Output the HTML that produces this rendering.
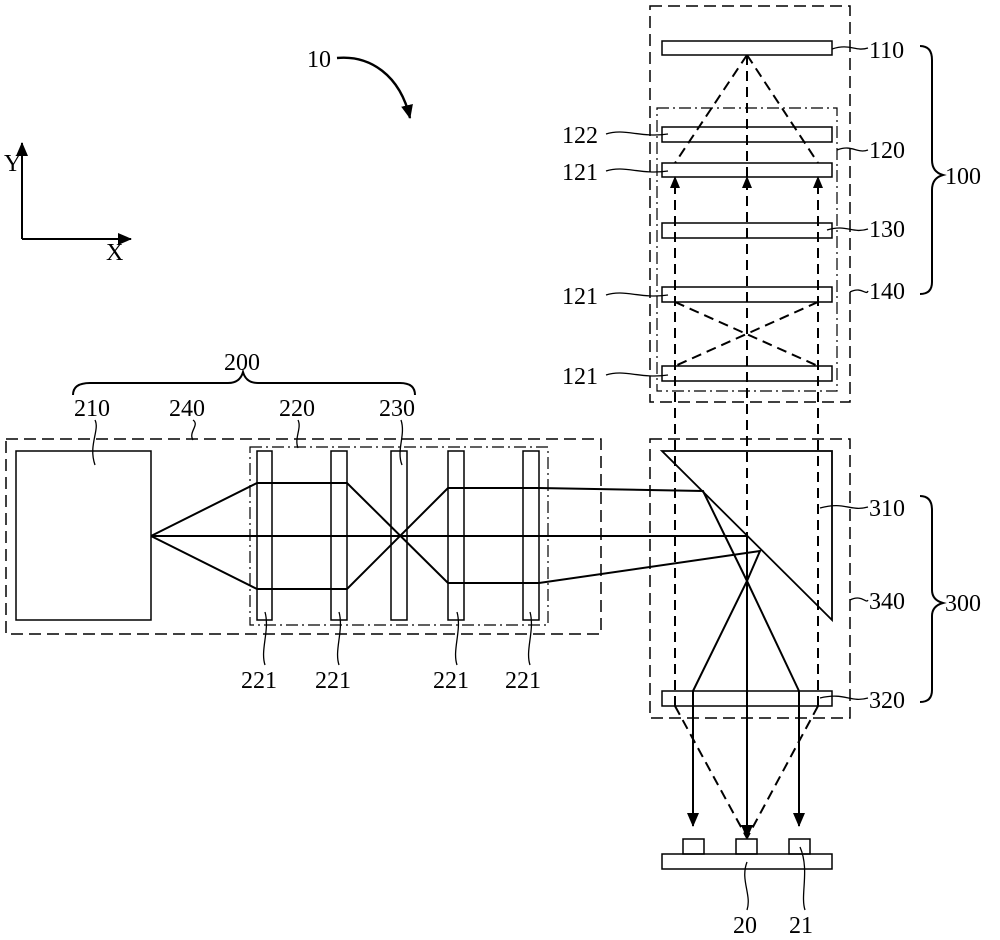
<!DOCTYPE html>
<html><head><meta charset="utf-8"><style>
html,body{margin:0;padding:0;background:#fff;}
svg{display:block;}
text{font-family:"Liberation Serif",serif;font-size:24px;fill:#000;}
</style></head><body>
<svg width="1000" height="940" viewBox="0 0 1000 940" xmlns="http://www.w3.org/2000/svg">
<defs>
<marker id="ahb" markerWidth="14" markerHeight="12" refX="13" refY="6" orient="auto" markerUnits="userSpaceOnUse"><path d="M0,0 L14,6 L0,12 Z" fill="#000"/></marker>
</defs>
<g fill="none" stroke="#000" stroke-width="1.5">
<line x1="22" y1="239" x2="22" y2="143" marker-end="url(#ahb)" stroke-width="2"/>
<line x1="22" y1="239" x2="131" y2="239" marker-end="url(#ahb)" stroke-width="2"/>
<path d="M337,58 C370,55 400,75 410,118" stroke-width="2.4" marker-end="url(#ahb)"/>

<rect x="650" y="6" width="200" height="396" stroke-dasharray="12,6"/>
<rect x="657" y="108" width="180" height="283" stroke-dasharray="12,4,2,4" stroke-width="1.2"/>
<rect x="662" y="41" width="170" height="14"/>
<rect x="662" y="127" width="170" height="15"/>
<rect x="662" y="163" width="170" height="14"/>
<rect x="662" y="223" width="170" height="15"/>
<rect x="662" y="287" width="170" height="15"/>
<rect x="662" y="366" width="170" height="15"/>
<g stroke-dasharray="10,6" stroke-width="2">
<line x1="747" y1="55" x2="675" y2="163"/>
<line x1="747" y1="55" x2="818" y2="163"/>
<line x1="675" y1="302" x2="818" y2="366"/>
<line x1="818" y1="302" x2="675" y2="366"/>
<line x1="675" y1="706" x2="747" y2="838"/>
<line x1="818" y1="706" x2="747" y2="838"/>
<line x1="675" y1="706" x2="675" y2="186"/>
<line x1="818" y1="706" x2="818" y2="186"/>
<line x1="747" y1="830" x2="747" y2="186"/>
<line x1="747" y1="177" x2="747" y2="55"/>
</g>
</g>
<g fill="#000">
<path d="M675,176 L670,188 L680,188 Z"/>
<path d="M747,176 L742,188 L752,188 Z"/>
<path d="M818,176 L813,188 L823,188 Z"/>
</g>
<g fill="none" stroke="#000" stroke-width="1.5">
<rect x="650" y="439" width="200" height="279" stroke-dasharray="12,6"/>
<path d="M662,451 L832,451 L832,620 Z" stroke-width="1.8"/>
<rect x="662" y="691" width="170" height="15"/>
<g stroke-width="2">
<polyline points="151,536 257,483 347,483 448,583 539,583 760,551 747,581 693,691"/>
<polyline points="151,536 257,589 347,589 448,488 539,488 703,491 747,581 799,691"/>
<line x1="151" y1="536" x2="747" y2="536"/>
<line x1="693" y1="691" x2="693" y2="826" marker-end="url(#ahb)"/>
<line x1="799" y1="691" x2="799" y2="826" marker-end="url(#ahb)"/>
<line x1="747" y1="536" x2="747" y2="838" marker-end="url(#ahb)"/>
</g>
<rect x="662" y="854" width="170" height="15"/>
<rect x="683" y="839" width="21" height="15"/>
<rect x="736" y="839" width="21" height="15"/>
<rect x="789" y="839" width="21" height="15"/>

<rect x="6" y="439" width="595" height="195" stroke-dasharray="12,6"/>
<rect x="250" y="447" width="298" height="178" stroke-dasharray="12,4,2,4" stroke-width="1.2"/>
<rect x="16" y="451" width="135" height="169"/>
<rect x="257" y="451" width="15" height="169"/>
<rect x="331" y="451" width="16" height="169"/>
<rect x="391" y="451" width="16" height="169"/>
<rect x="448" y="451" width="16" height="169"/>
<rect x="523" y="451" width="16" height="169"/>

<g stroke-width="1.3">
<path d="M832,49 C850,43 855,52 868,48"/>
<path d="M837,150 C852,144 857,154 868,150"/>
<path d="M827,230 C847,224 852,234 868,229"/>
<path d="M850,292 C862,286 866,296 868,291"/>
<path d="M820,508 C845,501 850,512 868,507"/>
<path d="M850,600 C862,594 866,604 868,600"/>
<path d="M820,698 C845,692 850,703 868,698"/>
<path d="M606,134 C625,128 640,138 668,134"/>
<path d="M606,171 C625,165 640,175 668,171"/>
<path d="M606,295 C625,289 640,299 668,295"/>
<path d="M606,375 C625,369 640,379 668,375"/>
<path d="M95,420 C100,430 88,445 95,465"/>
<path d="M193,420 C200,425 188,432 193,440"/>
<path d="M298,420 C302,428 294,438 298,448"/>
<path d="M401,420 C406,435 396,450 402,465"/>
<path d="M265,612 C270,630 260,650 265,665"/>
<path d="M339,612 C344,630 334,650 339,665"/>
<path d="M457,612 C462,630 452,650 457,665"/>
<path d="M530,612 C535,630 525,650 530,665"/>
<path d="M747,862 C740,880 752,895 747,910"/>
<path d="M800,847 C810,870 800,895 805,910"/>
</g>
<g stroke-width="2">
<path d="M73,395 Q73,383 90,383 L228,383 Q240,383 243,372 Q246,383 258,383 L400,383 Q415,383 415,395"/>
<path d="M920,46 Q932,46 932,60 L932,160 Q932,172 943,175 Q932,178 932,190 L932,282 Q932,294 920,294"/>
<path d="M920,496 Q932,496 932,510 L932,590 Q932,600 943,603 Q932,606 932,616 L932,690 Q932,702 920,702"/>
</g>
</g>
<text x="307" y="67">10</text>
<text x="4" y="171" font-size="20">Y</text>
<text x="106" y="260" font-size="20">X</text>
<text x="869" y="58">110</text>
<text x="869" y="158">120</text>
<text x="869" y="237">130</text>
<text x="869" y="299">140</text>
<text x="945" y="184">100</text>
<text x="562" y="143">122</text>
<text x="562" y="180">121</text>
<text x="562" y="304">121</text>
<text x="562" y="384">121</text>
<text x="869" y="516">310</text>
<text x="869" y="609">340</text>
<text x="869" y="708">320</text>
<text x="945" y="611">300</text>
<text x="224" y="370">200</text>
<text x="74" y="416">210</text>
<text x="169" y="416">240</text>
<text x="279" y="416">220</text>
<text x="379" y="416">230</text>
<text x="241" y="688">221</text>
<text x="315" y="688">221</text>
<text x="433" y="688">221</text>
<text x="505" y="688">221</text>
<text x="733" y="933">20</text>
<text x="789" y="933">21</text>
</svg>
</body></html>
